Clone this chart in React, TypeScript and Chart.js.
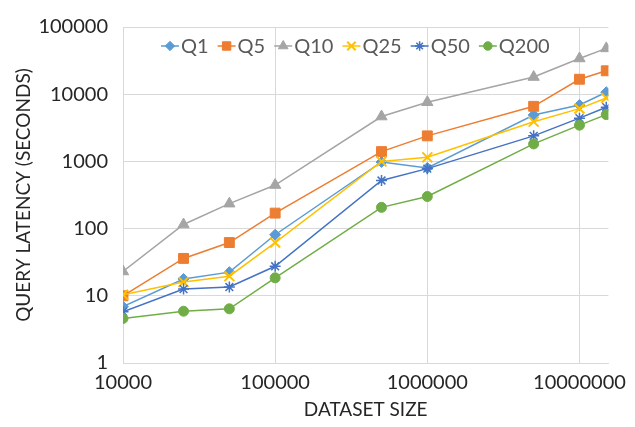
import React, { useEffect, useRef } from 'react';
import { Chart, registerables } from 'chart.js';
import { drawPoint } from 'chart.js/helpers';

Chart.register(...registerables);

// ---- data ----
const datasetSizes = [10000, 25000, 50000, 100000, 500000, 1000000, 5000000, 10000000, 15000000];
const seriesNames = ['Q1', 'Q5', 'Q10', 'Q25', 'Q50', 'Q200'];
const q1 = [6.9, 17.8, 22.5, 81, 980, 800, 4900, 6900, 10700];
const q5 = [10, 36, 62, 170, 1400, 2400, 6600, 16700, 22300];
const q10 = [23, 115, 235, 445, 4650, 7600, 18000, 34000, 48000];
const q25 = [10.4, 16, 19.6, 62, 1000, 1150, 3900, 6100, 8800];
const q50 = [5.8, 12.6, 13.5, 27.5, 520, 780, 2400, 4400, 6400];
const q200 = [4.6, 5.9, 6.4, 18.5, 207, 300, 1820, 3460, 4970];
const xTickValues = [10000, 100000, 1000000, 10000000];
const yTickValues = [1, 10, 100, 1000, 10000, 100000];

const seriesValues = [q1, q5, q10, q25, q50, q200];
const seriesColors = ['#5B9BD5', '#ED7D31', '#A5A5A5', '#FFC000', '#4472C4', '#70AD47'];
const seriesStyles = ['rectRot', 'rect', 'triangle', 'crossRot', 'star', 'circle'];
const seriesRadius = [5.5, 7, 6.5, 7, 5.5, 5];
const seriesPointBorder = [1, 1, 1, 2, 1.5, 1];

const FONT = 'Lato, "Open Sans", sans-serif';
const TEXT = '#262626';
const LEGEND_TEXT = '#595959';
const GRID = '#D9D9D9';

const legendPlugin = {
  id: 'insideLegend',
  afterDraw(chart: any) {
    const ctx = chart.ctx as CanvasRenderingContext2D;
    ctx.save();
    ctx.font = `20px ${FONT}`;
    ctx.textBaseline = 'middle';
    ctx.textAlign = 'left';
    const y = chart.chartArea.top + 19;
    let x = 161;
    chart.data.datasets.forEach((ds: any) => {
      ctx.strokeStyle = ds.borderColor;
      ctx.fillStyle = ds.backgroundColor;
      ctx.lineWidth = 1.5;
      ctx.beginPath();
      ctx.moveTo(x, y);
      ctx.lineTo(x + 18, y);
      ctx.stroke();
      ctx.lineWidth = ds.pointBorderWidth;
      drawPoint(ctx, { pointStyle: ds.pointStyle, radius: ds.pointRadius * 0.85, borderWidth: ds.pointBorderWidth, rotation: 0 } as any, x + 9, y);
      ctx.fillStyle = LEGEND_TEXT;
      ctx.fillText(ds.label, x + 20, y + 1);
      x += 20 + ctx.measureText(ds.label).width + 9;
    });
    ctx.restore();
  },
};

export default function App() {
  const ref = useRef<HTMLCanvasElement | null>(null);

  useEffect(() => {
    if (!ref.current) return;
    const datasets = seriesNames.map((name, i) => ({
      label: name,
      data: datasetSizes.map((x, j) => ({ x, y: seriesValues[i][j] })),
      borderColor: seriesColors[i],
      backgroundColor: seriesColors[i],
      pointBackgroundColor: seriesColors[i],
      pointBorderColor: seriesColors[i],
      pointStyle: seriesStyles[i],
      pointRadius: seriesRadius[i],
      pointBorderWidth: seriesPointBorder[i],
      borderWidth: 1.5,
      order: seriesNames.length - i,
      tension: 0,
    }));
    const chart = new Chart(ref.current, {
      type: 'line',
      data: { datasets },
      plugins: [legendPlugin],
      options: {
        animation: false,
        responsive: false,
        layout: { padding: { top: 22, right: 19, left: 0, bottom: 0 } },
        plugins: { legend: { display: false }, tooltip: { enabled: false } },
        scales: {
          x: {
            type: 'logarithmic',
            min: 10000,
            max: 15500000,
            afterBuildTicks: (s: any) => { s.ticks = xTickValues.map((v) => ({ value: v })); },
            afterFit: (s: any) => { s.height = 64; },
            grid: { color: GRID, lineWidth: 1, drawTicks: false },
            border: { color: GRID, width: 1 },
            ticks: {
              color: TEXT,
              font: { family: FONT, size: 20 },
              padding: 8,
              maxRotation: 0,
              autoSkip: false,
              callback: (v: any) => String(v),
            },
            title: {
              display: true,
              text: 'DATASET SIZE',
              color: TEXT,
              font: { family: FONT, size: 19 },
              padding: { top: 0, bottom: 6 },
            },
          },
          y: {
            type: 'logarithmic',
            min: 1,
            max: 100000,
            afterBuildTicks: (s: any) => { s.ticks = yTickValues.map((v) => ({ value: v })); },
            afterFit: (s: any) => { s.width = 123; },
            grid: { color: GRID, lineWidth: 1, drawTicks: false },
            border: { color: GRID, width: 1 },
            ticks: {
              color: TEXT,
              font: { family: FONT, size: 20 },
              padding: 15,
              autoSkip: false,
              callback: (v: any) => String(v),
            },
            title: {
              display: true,
              text: 'QUERY LATENCY (SECONDS)',
              color: TEXT,
              font: { family: FONT, size: 19 },
              padding: { top: 12, bottom: 0 },
            },
          },
        },
      } as any,
    });
    return () => chart.destroy();
  }, []);

  return (
    <div style={{ position: 'absolute', left: 0, top: 0, width: 635, height: 427, background: '#fff' }}>
      <canvas ref={ref} width={635} height={427} />
    </div>
  );
}
